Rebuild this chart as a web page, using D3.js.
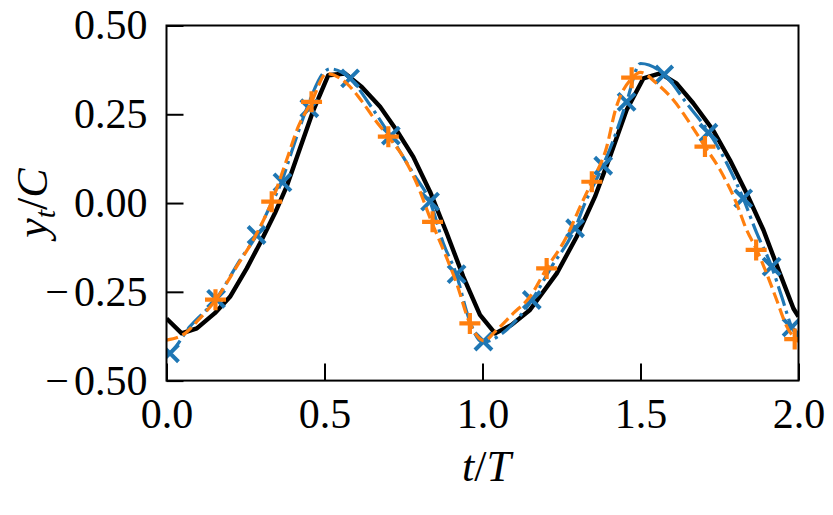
<!DOCTYPE html>
<html>
<head>
<meta charset="utf-8">
<script src="https://cdn.jsdelivr.net/npm/d3@7"></script>
<style>
  html, body { margin: 0; padding: 0; background: #fff; }
  svg { display: block; }
  .tick text { font-family: "Liberation Serif", serif; font-size: 42px; fill: #000; }
  .lbl { font-family: "Liberation Serif", serif; font-size: 44px; fill: #000; }
</style>
</head>
<body>
<svg id="chart" width="833" height="515"></svg>
<script>
// ---- data ----
const blackT = [0, 0.048, 0.096, 0.153, 0.201, 0.254, 0.296, 0.343, 0.380, 0.417, 0.465, 0.512, 0.565, 0.618, 0.676, 0.728, 0.781, 0.834, 0.887, 0.939, 0.992,
                1.04, 1.092, 1.15, 1.235, 1.298, 1.356, 1.403, 1.456, 1.509, 1.562, 1.614, 1.667, 1.73, 1.783, 1.836, 1.889, 1.941, 1.984, 2.0];
const blackV = [-0.325, -0.367, -0.353, -0.31, -0.264, -0.184, -0.113, -0.029, 0.046, 0.14, 0.262, 0.36, 0.365, 0.327, 0.271, 0.205, 0.13, 0.032, -0.085, -0.207, -0.315,
                -0.367, -0.343, -0.301, -0.198, -0.095, 0.018, 0.13, 0.262, 0.351, 0.365, 0.337, 0.281, 0.205, 0.121, 0.027, -0.076, -0.198, -0.297, -0.32];

const orangeT = [0, 0.059, 0.096, 0.157, 0.222, 0.28, 0.333, 0.38, 0.417, 0.459, 0.507, 0.57, 0.623, 0.66, 0.702, 0.755, 0.792, 0.839, 0.881, 0.918, 0.96, 1.005,
                 1.04, 1.097, 1.15, 1.203, 1.266, 1.309, 1.346, 1.393, 1.42, 1.472, 1.5, 1.551, 1.604, 1.657, 1.704, 1.752, 1.804, 1.836, 1.868, 1.899, 1.931, 1.963, 2.0];
const orangeV = [-0.386, -0.367, -0.334, -0.271, -0.179, -0.095, 0.004, 0.121, 0.215, 0.285, 0.365, 0.337, 0.281, 0.234, 0.187, 0.121, 0.055, -0.053, -0.142, -0.226, -0.339, -0.388,
                 -0.362, -0.311, -0.264, -0.184, -0.095, -0.01, 0.06, 0.158, 0.26, 0.351, 0.368, 0.337, 0.29, 0.224, 0.159, 0.093, -0.001, -0.076, -0.132, -0.198, -0.273, -0.348, -0.39];
const orangeMarkT = [0.155, 0.333, 0.459, 0.702, 0.842, 0.96, 1.203, 1.346, 1.472, 1.704, 1.866, 1.988];
const orangeMarkV = [-0.272, 0.004, 0.285, 0.187, -0.053, -0.339, -0.184, 0.06, 0.353, 0.159, -0.132, -0.383];

const blueT = [0, 0.011, 0.074, 0.157, 0.233, 0.285, 0.317, 0.365, 0.401, 0.444, 0.5, 0.517, 0.581, 0.644, 0.697, 0.781, 0.834, 0.876, 0.918, 0.955, 1.0,
               1.055, 1.108, 1.156, 1.219, 1.293, 1.324, 1.382, 1.414, 1.456, 1.5, 1.578, 1.646, 1.715, 1.773, 1.825, 1.868, 1.915, 1.947, 1.978, 2.0];
const blueV = [-0.43, -0.423, -0.348, -0.27, -0.16, -0.09, -0.029, 0.062, 0.158, 0.267, 0.37, 0.378, 0.351, 0.276, 0.205, 0.083, 0.004, -0.113, -0.203, -0.32, -0.392,
               -0.372, -0.329, -0.273, -0.179, -0.071, -0.001, 0.107, 0.177, 0.285, 0.393, 0.36, 0.281, 0.201, 0.112, 0.013, -0.085, -0.179, -0.264, -0.348, -0.38];
const blueMarkT = [0.011, 0.157, 0.285, 0.367, 0.452, 0.581, 0.71, 0.834, 0.918, 1.003, 1.156, 1.293, 1.382, 1.456, 1.575, 1.715, 1.825, 1.915, 1.978];
const blueMarkV = [-0.423, -0.27, -0.09, 0.058, 0.267, 0.351, 0.19, 0.004, -0.2, -0.39, -0.273, -0.071, 0.105, 0.285, 0.362, 0.198, 0.013, -0.179, -0.35];

const xTicks = [0, 0.5, 1.0, 1.5, 2.0];
const yTicks = [-0.5, -0.25, 0, 0.25, 0.5];

// ---- layout ----
const L = 166.5, R = 798.5, T = 25.5, B = 380.6;
const svg = d3.select("#chart");
const x = d3.scaleLinear().domain([0, 2]).range([L, R]);
const y = d3.scaleLinear().domain([-0.5, 0.5]).range([B, T]);

svg.append("defs").append("clipPath").attr("id", "clip")
  .append("rect").attr("x", L).attr("y", T).attr("width", R - L).attr("height", B - T);

const zip = (ts, vs) => ts.map((t, i) => [t, vs[i]]);
const lineSharp = d3.line().x(d => x(d[0])).y(d => y(d[1]));
const lineSmooth = d3.line().x(d => x(d[0])).y(d => y(d[1])).curve(d3.curveMonotoneX);

const plot = svg.append("g").attr("clip-path", "url(#clip)");

plot.append("path").datum(zip(blackT, blackV)).attr("d", lineSharp)
  .attr("fill", "none").attr("stroke", "#000").attr("stroke-width", 4.4).attr("stroke-linejoin", "round");

plot.append("path").datum(zip(blueT, blueV)).attr("d", lineSmooth)
  .attr("fill", "none").attr("stroke", "#1f77b4").attr("stroke-width", 3.2)
  .attr("stroke-dasharray", "20.5,5.1,3.2,5.1");

plot.selectAll(".bm").data(zip(blueMarkT, blueMarkV)).join("path").attr("class", "bm")
  .attr("transform", d => `translate(${x(d[0])},${y(d[1])})`)
  .attr("d", "M-8.5,-8.5L8.5,8.5M-8.5,8.5L8.5,-8.5")
  .attr("stroke", "#1f77b4").attr("stroke-width", 4).attr("fill", "none");

plot.append("path").datum(zip(orangeT, orangeV)).attr("d", lineSmooth)
  .attr("fill", "none").attr("stroke", "#ff7f0e").attr("stroke-width", 3.2)
  .attr("stroke-dasharray", "11.8,5.1");

plot.selectAll(".om").data(zip(orangeMarkT, orangeMarkV)).join("path").attr("class", "om")
  .attr("transform", d => `translate(${x(d[0])},${y(d[1])})`)
  .attr("d", "M-10.5,0H10.5M0,-10.5V10.5")
  .attr("stroke", "#ff7f0e").attr("stroke-width", 4.2).attr("fill", "none");

// ---- axes ----
const xAxis = d3.axisBottom(x).tickValues(xTicks).tickFormat(d3.format(".1f"))
  .tickSizeInner(-17).tickSizeOuter(0).tickPadding(18);
const gx = svg.append("g").attr("transform", `translate(0,${B})`).call(xAxis);
gx.select(".domain").remove();
gx.selectAll(".tick line").attr("stroke", "#000").attr("stroke-width", 2);

const yAxis = d3.axisLeft(y).tickValues(yTicks).tickFormat(d3.format(".2f"))
  .tickSizeInner(-17).tickSizeOuter(0).tickPadding(19);
const gy = svg.append("g").attr("transform", `translate(${L},0)`).call(yAxis);
gy.select(".domain").remove();
gy.selectAll(".tick line").attr("stroke", "#000").attr("stroke-width", 2);
gy.selectAll(".tick text").each(function (d) {
  const s = d3.format(".2f")(Math.abs(d));
  const t = d3.select(this).text(null);
  if (d < 0) t.append("tspan").text("\u2212");
  t.append("tspan").attr("dx", d < 0 ? 5 : 0).text(s);
});

svg.append("rect").attr("x", L).attr("y", T).attr("width", R - L).attr("height", B - T)
  .attr("fill", "none").attr("stroke", "#000").attr("stroke-width", 2);

// ---- labels ----
const xl = svg.append("text").attr("class", "lbl").attr("x", (L + R) / 2 + 4).attr("y", 481).attr("text-anchor", "middle");
xl.append("tspan").attr("font-style", "italic").text("t");
xl.append("tspan").text("/");
xl.append("tspan").attr("font-style", "italic").text("T");

const yl = svg.append("text").attr("class", "lbl")
  .attr("transform", `translate(47,${(T + B) / 2}) rotate(-90)`).attr("text-anchor", "middle");
yl.append("tspan").attr("font-style", "italic").text("y");
yl.append("tspan").attr("font-style", "italic").attr("font-size", "30px").attr("dy", "8").text("t");
yl.append("tspan").attr("dy", "-8").text("/");
yl.append("tspan").attr("font-style", "italic").text("C");
</script>
</body>
</html>
